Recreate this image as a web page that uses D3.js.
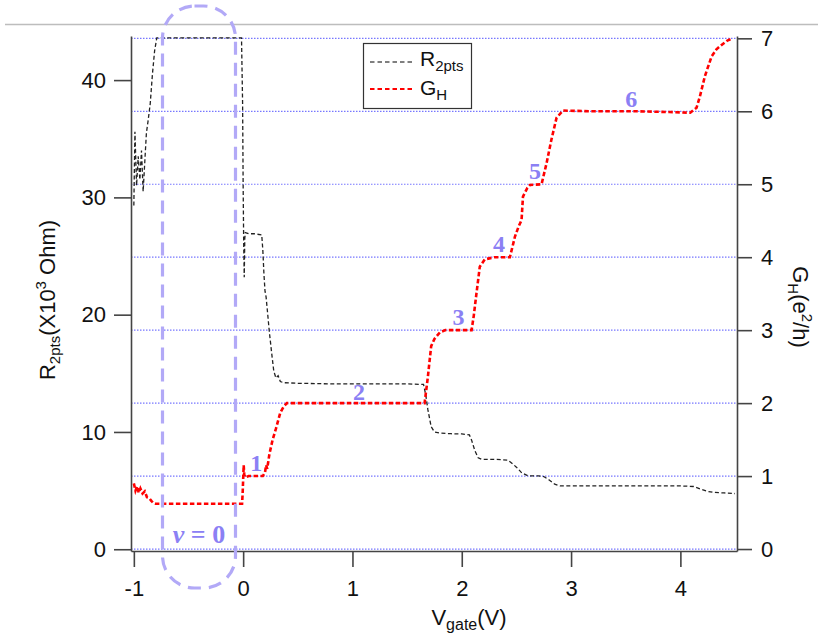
<!DOCTYPE html>
<html><head><meta charset="utf-8">
<script src="https://cdn.jsdelivr.net/npm/d3@7"></script>
<style>body{margin:0;background:#fff}svg{display:block}</style>
</head><body>
<svg id="c" width="818" height="637"></svg>
<script>
// ---- data ----
const rVgate = [-1.0,-0.99,-0.975,-0.96,-0.945,-0.93,-0.915,-0.9,-0.885,-0.87,-0.85,-0.83,-0.81,-0.79,-0.5,-0.2,-0.015,-0.005,0.0,0.005,0.01,0.015,0.02,0.05,0.1,0.17,0.18,0.19,0.2,0.21,0.22,0.24,0.26,0.28,0.3,0.32,0.34,0.37,0.5,0.8,1.2,1.5,1.65,1.67,1.69,1.72,1.75,1.8,1.9,2.0,2.07,2.09,2.12,2.15,2.18,2.3,2.42,2.45,2.5,2.55,2.61,2.7,2.75,2.8,2.85,2.9,3.5,4.0,4.12,4.18,4.24,4.3,4.4,4.5];
const rValues = [29.3,35.6,31.0,33.5,31.5,34.0,30.5,33.0,35.5,36.5,38.0,40.5,42.5,43.6,43.6,43.6,43.6,38.0,31.0,26.0,23.2,26.5,27.0,26.9,26.9,26.8,25.5,23.5,22.0,21.5,20.5,18.5,16.8,15.2,14.6,14.8,14.3,14.2,14.15,14.1,14.1,14.1,14.05,13.2,11.9,10.45,10.0,9.9,9.85,9.83,9.75,9.3,8.4,7.8,7.67,7.67,7.6,7.4,7.0,6.5,6.25,6.25,6.2,5.9,5.55,5.4,5.4,5.4,5.35,5.15,4.95,4.85,4.8,4.75];

const gVgate = [-1.0,-0.985,-0.97,-0.955,-0.94,-0.92,-0.9,-0.88,-0.86,-0.84,-0.82,-0.8,-0.5,-0.2,-0.01,-0.005,0.0,0.005,0.01,0.02,0.05,0.1,0.18,0.2,0.21,0.22,0.24,0.27,0.3,0.34,0.37,0.4,1.0,1.66,1.69,1.72,1.75,1.8,1.85,2.09,2.11,2.135,2.165,2.21,2.3,2.44,2.465,2.486,2.52,2.547,2.56,2.6,2.623,2.73,2.776,2.82,2.867,2.925,3.2,3.6,3.9,4.09,4.148,4.178,4.224,4.285,4.33,4.377,4.43,4.48];
const gValues = [0.9,0.8,0.86,0.77,0.83,0.76,0.79,0.71,0.7,0.66,0.63,0.62,0.62,0.62,0.62,0.75,0.95,1.15,1.02,0.98,1.0,1.0,1.0,1.05,1.15,1.1,1.3,1.5,1.65,1.87,1.95,2.0,2.0,2.0,2.36,2.78,2.88,2.97,3.0,3.0,3.2,3.51,3.87,3.97,4.0,4.0,4.15,4.28,4.42,4.51,4.83,4.95,4.99,5.0,5.29,5.61,5.91,6.01,6.0,6.0,5.99,5.98,6.05,6.2,6.48,6.75,6.85,6.91,6.97,7.0];

const xTicks = [-1,0,1,2,3,4];
const leftTicks = [0,10,20,30,40];
const rightTicks = [0,1,2,3,4,5,6,7];
const plateauLabels = ["1","2","3","4","5","6"];
const plateauV = [0.12,1.06,1.97,2.34,2.67,3.55];
const plateauG = [1.18,2.16,3.19,4.19,5.19,6.17];

// ---- scales ----
const svg = d3.select("#c");
const x = d3.scaleLinear().domain([-1.026, 4.518]).range([131, 737]);
const yL = d3.scaleLinear().domain([-0.15, 43.76]).range([551, 36]);
const yR = d3.scaleLinear().domain([-0.027, 7.032]).range([551, 36]);

// top separator line
svg.append("line").attr("x1",5).attr("x2",818).attr("y1",24.5).attr("y2",24.5)
  .attr("stroke","#bdbdbd").attr("stroke-width",1.3);

// grid lines
svg.append("g").selectAll("line").data(rightTicks).join("line")
  .attr("x1",131).attr("x2",736).attr("y1",d=>yR(d)).attr("y2",d=>yR(d))
  .attr("stroke","#7777ff").attr("stroke-width",1.2).attr("stroke-dasharray","1.5,1.5");

// axes
const fontTick = "22px 'Liberation Sans', Arial, sans-serif";
function styleAxis(g){
  g.selectAll("path").attr("stroke","#444").attr("stroke-width",1.6);
  g.selectAll("line").attr("stroke","#444").attr("stroke-width",1.6);
  g.selectAll("text").style("font", fontTick).attr("fill","#111");
}
const fmt = d => String(d);
svg.append("g").attr("transform","translate(131,0)")
  .call(d3.axisLeft(yL).tickValues(leftTicks).tickSize(17).tickSizeOuter(0).tickPadding(8).tickFormat(fmt))
  .call(styleAxis);
svg.append("g").attr("transform","translate(737,0)")
  .call(d3.axisRight(yR).tickValues(rightTicks).tickSize(15).tickSizeOuter(0).tickPadding(9).tickFormat(fmt))
  .call(styleAxis);
svg.append("g").attr("transform","translate(0,551)")
  .call(d3.axisBottom(x).tickValues(xTicks).tickSize(16).tickSizeOuter(0).tickPadding(13).tickFormat(fmt))
  .call(styleAxis);

// curves
const lineR = d3.line().x((d,i)=>x(rVgate[i])).y(d=>yL(d));
const lineG = d3.line().x((d,i)=>x(gVgate[i])).y(d=>yR(d));
svg.append("path").attr("d", lineR(rValues)).attr("fill","none")
  .attr("stroke","#222").attr("stroke-width",1.3).attr("stroke-dasharray","4,2.5");
svg.append("path").attr("d", lineG(gValues)).attr("fill","none")
  .attr("stroke","#ff0000").attr("stroke-width",2.6).attr("stroke-dasharray","4.5,2.5");

// nu=0 dashed rounded box
svg.append("rect").attr("x",162.5).attr("y",6).attr("width",73).attr("height",582)
  .attr("rx",32).attr("ry",32).attr("fill","none")
  .attr("stroke","#b2a9f7").attr("stroke-width",3.2).attr("stroke-dasharray","13,8");
const nu = svg.append("text").attr("x",199).attr("y",543).attr("text-anchor","middle")
  .attr("fill","#8b80f4").style("font","bold 26px 'Liberation Serif', 'DejaVu Serif', serif");
nu.append("tspan").style("font-style","italic").text("ν");
nu.append("tspan").text(" = 0");

// plateau labels
svg.append("g").selectAll("text").data(plateauLabels).join("text")
  .attr("x",(d,i)=>x(plateauV[i])).attr("y",(d,i)=>yR(plateauG[i])).attr("dy","0.35em")
  .attr("text-anchor","middle").attr("fill","#8b80f4")
  .style("font","bold 24px 'Liberation Serif', 'DejaVu Serif', serif").text(d=>d);

// legend
const lg = svg.append("g");
lg.append("rect").attr("x",363.5).attr("y",43.5).attr("width",108).attr("height",65)
  .attr("fill","#fff").attr("stroke","#333").attr("stroke-width",1.2);
lg.append("line").attr("x1",370).attr("x2",412).attr("y1",62).attr("y2",62)
  .attr("stroke","#555").attr("stroke-width",1.4).attr("stroke-dasharray","4.5,3");
lg.append("line").attr("x1",370).attr("x2",412).attr("y1",89).attr("y2",89)
  .attr("stroke","#ff0000").attr("stroke-width",2.2).attr("stroke-dasharray","4.5,3");
const lt1 = lg.append("text").attr("x",420).attr("y",66).style("font","21px 'Liberation Sans', Arial, sans-serif").attr("fill","#111");
lt1.append("tspan").text("R");
lt1.append("tspan").attr("dy",5).style("font-size","15px").text("2pts");
const lt2 = lg.append("text").attr("x",420).attr("y",95).style("font","21px 'Liberation Sans', Arial, sans-serif").attr("fill","#111");
lt2.append("tspan").text("G");
lt2.append("tspan").attr("dy",5).style("font-size","15px").text("H");

// axis titles
const ft = "22px 'Liberation Sans', Arial, sans-serif";
const tl = svg.append("text").attr("transform","translate(55,300) rotate(-90)")
  .attr("text-anchor","middle").style("font",ft).attr("fill","#111");
tl.append("tspan").text("R");
tl.append("tspan").attr("dy",5).style("font-size","15px").text("2pts");
tl.append("tspan").attr("dy",-5).text("(X10");
tl.append("tspan").attr("dy",-9).style("font-size","15px").text("3");
tl.append("tspan").attr("dy",9).text(" Ohm)");

const tr = svg.append("text").attr("transform","translate(793,307) rotate(90)")
  .attr("text-anchor","middle").style("font",ft).attr("fill","#111");
tr.append("tspan").text("G");
tr.append("tspan").attr("dy",5).style("font-size","15px").text("H");
tr.append("tspan").attr("dy",-5).text("(e");
tr.append("tspan").attr("dy",-9).style("font-size","15px").text("2");
tr.append("tspan").attr("dy",9).text("/h)");

const tb = svg.append("text").attr("x",469).attr("y",625).attr("text-anchor","middle")
  .style("font",ft).attr("fill","#111");
tb.append("tspan").text("V");
tb.append("tspan").attr("dy",5).style("font-size","16px").text("gate");
tb.append("tspan").attr("dy",-5).text("(V)");
</script>
</body></html>
